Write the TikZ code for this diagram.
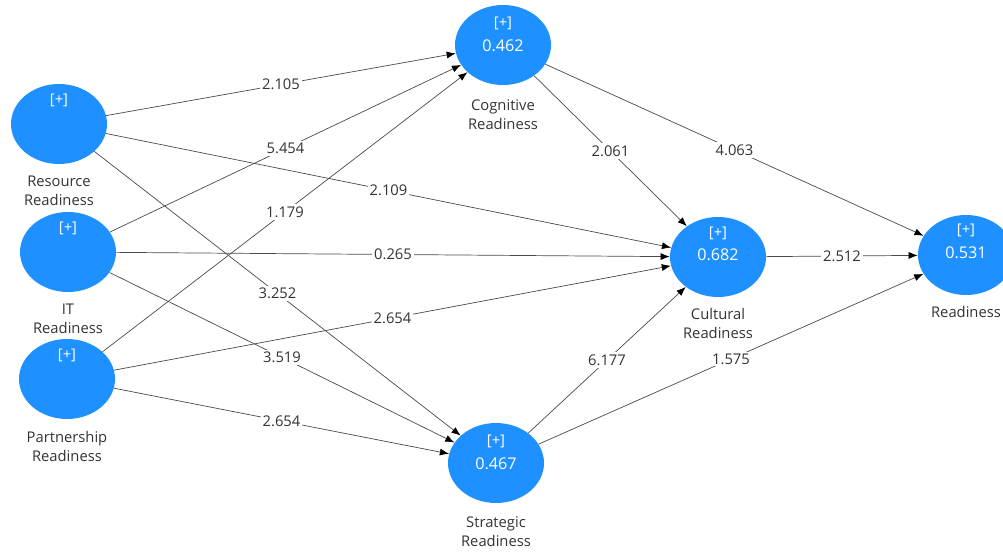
\documentclass[tikz,border=0pt]{standalone}
\usepackage{fontspec}
\setmainfont{Open Sans}
\usetikzlibrary{shapes.geometric,arrows.meta}

\definecolor{lvblue}{HTML}{1E90FF}
\definecolor{pathgray}{HTML}{4A4A4A}
\definecolor{txtgray}{HTML}{333333}

\tikzset{
  latent/.style={ellipse, fill=lvblue, draw=none, minimum width=2.4cm, minimum height=2cm, inner sep=0pt},
  inlbl/.style={text=white, font=\fontsize{10.5}{12}\selectfont, inner sep=0pt},
  namelbl/.style={text=txtgray, align=center, font=\fontsize{10.5}{13.5}\selectfont, inner sep=0pt},
  path/.style={draw=pathgray, line width=0.5pt, -{Latex[length=6.5pt,width=5pt,color=black]}},
  coef/.style={fill=white, text=txtgray, font=\fontsize{10.5}{12}\selectfont, inner sep=1.5pt}
}

\begin{document}
\begin{tikzpicture}[x=0.25mm, y=-0.25mm]

\useasboundingbox (0,0) rectangle (1003,552);

% ===== Constructs =====
\node[latent] (res) at (59,124) {};
\node[latent] (it)  at (68,252) {};
\node[latent] (par) at (67,379) {};
\node[latent] (cog) at (503,45) {};
\node[latent] (cul) at (718,257) {};
\node[latent] (str) at (496,463) {};
\node[latent] (rdy) at (966,255) {};

% ===== Text inside =====
\node[inlbl] (res-p) at (59,100) {[+]};
\node[inlbl] (it-p)  at (68,228) {[+]};
\node[inlbl] (par-p) at (67,355) {[+]};
\node[inlbl] (cog-p) at (503,23) {[+]};
\node[inlbl, font=\fontsize{11.5}{13}\selectfont] (cog-v) at (503,46) {0.462};
\node[inlbl] (cul-p) at (718,233) {[+]};
\node[inlbl, font=\fontsize{11.5}{13}\selectfont] (cul-v) at (718,255) {0.682};
\node[inlbl] (str-p) at (496,441) {[+]};
\node[inlbl, font=\fontsize{11.5}{13}\selectfont] (str-v) at (496,464) {0.467};
\node[inlbl] (rdy-p) at (966,230) {[+]};
\node[inlbl, font=\fontsize{11.5}{13}\selectfont] (rdy-v) at (966,253) {0.531};

% ===== Names =====
\node[namelbl] (res-n) at (59,191) {Resource\\Readiness};
\node[namelbl] (it-n)  at (68,319) {IT\\Readiness};
\node[namelbl] (par-n) at (67,446) {Partnership\\Readiness};
\node[namelbl] (cog-n) at (503,115) {Cognitive\\Readiness};
\node[namelbl] (cul-n) at (718,323) {Cultural\\Readiness};
\node[namelbl] (str-n) at (496,532) {Strategic\\Readiness};
\node[namelbl] (rdy-n) at (966,312) {Readiness};

% ===== Paths =====
% to Cognitive
\draw[path] (res) -- node[coef] (c1) {2.105} (cog);
\draw[path] (it)  -- node[coef] (c2) {5.454} (cog);
\draw[path] (par) -- node[coef] (c3) {1.179} (cog);

% to Cultural
\draw[path] (res) -- node[coef] (c4) {2.109} (cul);
\draw[path] (it)  -- node[coef] (c5) {0.265} (cul);
\draw[path] (par) -- node[coef] (c6) {2.654} (cul);

% to Strategic
\draw[path] (res) -- node[coef] (c7) {3.252} (str);
\draw[path] (it)  -- node[coef] (c8) {3.519} (str);
\draw[path] (par) -- node[coef] (c9) {2.654} (str);

% to Cultural / Readiness
\draw[path] (cog) -- node[coef] (c10) {2.061} (cul);
\draw[path] (str) -- node[coef] (c11) {6.177} (cul);
\draw[path] (cog) -- node[coef] (c12) {4.063} (rdy);
\draw[path] (cul) -- node[coef] (c13) {2.512} (rdy);
\draw[path] (str) -- node[coef] (c14) {1.575} (rdy);

\end{tikzpicture}
\end{document}
